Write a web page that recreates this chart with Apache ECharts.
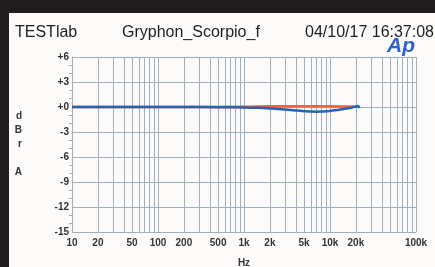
<!DOCTYPE html>
<html>
<head>
<meta charset="utf-8">
<script src="https://cdn.jsdelivr.net/npm/echarts@6/dist/echarts.min.js"></script>
<style>
  html, body { margin: 0; padding: 0; background: #1f1d1d; }
  #chart { width: 435px; height: 267px; }
</style>
</head>
<body>
<div id="chart"></div>
<script>
// frequency response, dBrA vs Hz
var freqs = [10, 20, 50, 100, 200, 500, 1000, 1500, 2000, 3000, 4000, 5000, 6000, 7000, 8000, 10000, 12000, 15000, 18000, 20000, 21000, 22000];
var blueDb = [0, 0, 0, 0, 0, -0.02, -0.05, -0.1, -0.17, -0.3, -0.42, -0.5, -0.55, -0.56, -0.54, -0.47, -0.37, -0.22, -0.06, 0.06, 0.12, -0.12];
var redFreqs = [10, 100, 1000, 2000, 5000, 10000, 15000, 20000];
var redDb = [0, 0, 0.03, 0.08, 0.1, 0.08, 0.05, 0.02];

var xLabels = [10, 20, 50, 100, 200, 500, 1000, 2000, 5000, 10000, 20000, 100000];
var gridMult = [1, 2, 3, 4, 5, 6, 7, 8, 9];
var decades = [10, 100, 1000, 10000];

var vLines = [];
for (var i = 0; i < decades.length; i++) {
  for (var j = 0; j < gridMult.length; j++) {
    vLines.push({ xAxis: decades[i] * gridMult[j] });
  }
}
vLines.push({ xAxis: 100000 });

function pair(xs, ys) {
  var out = [];
  for (var i = 0; i < xs.length; i++) out.push([xs[i], ys[i]]);
  return out;
}

function fmtHz(v) {
  if (v >= 1000) return (v / 1000) + 'k';
  return '' + v;
}

var chart = echarts.init(document.getElementById('chart'));
var lbl = { color: '#333', fontSize: 10, fontWeight: 'bold', fontFamily: 'Liberation Sans Narrow, Liberation Sans' };
var gridColor = '#9fb0bf';

var option = {
  backgroundColor: '#fdfafa',
  animation: false,
  grid: { left: 72, right: 19, top: 57, bottom: 35, outerBoundsMode: 'none', containLabel: false },
  graphic: [
    { type: 'rect', shape: { x: 0, y: 0, width: 435, height: 13 }, style: { fill: '#1f1d1d' } },
    { type: 'rect', shape: { x: 0, y: 0, width: 9, height: 267 }, style: { fill: '#1f1d1d' } },
    { type: 'text', left: 15, top: 25, style: { text: 'TESTlab', fill: '#1e1e1e', font: '16px "Liberation Sans"' } },
    { type: 'text', left: 122, top: 25, style: { text: 'Gryphon_Scorpio_f', fill: '#1e1e1e', font: '16px "Liberation Sans"' } },
    { type: 'text', left: 305, top: 25, style: { text: '04/10/17 16:37:08', fill: '#1e1e1e', font: '16px "Liberation Sans"' } },
    { type: 'text', left: 387, top: 36, style: { text: 'Ap', fill: '#2f5fd0', font: 'italic bold 21px "Liberation Sans"' } }
  ],
  xAxis: {
    type: 'log',
    logBase: 10,
    min: 10,
    max: 100000,
    name: 'Hz',
    nameLocation: 'middle',
    nameGap: 26,
    nameTextStyle: lbl,
    axisLine: { show: true, lineStyle: { color: gridColor, width: 1 } },
    axisTick: { show: false },
    splitLine: { show: false },
    axisLabel: {
      customValues: xLabels,
      formatter: function (v) { return fmtHz(v); },
      margin: 6,
      color: lbl.color, fontSize: 10, fontWeight: 'bold', fontFamily: lbl.fontFamily
    }
  },
  yAxis: {
    type: 'value',
    min: -15,
    max: 6,
    interval: 3,
    name: 'd\nB\nr\n\nA',
    nameLocation: 'middle',
    nameRotate: 0,
    nameGap: 50,
    nameTextStyle: { color: '#333', fontSize: 10, fontWeight: 'bold', lineHeight: 14, fontFamily: 'Liberation Sans' },
    axisLine: { show: true, lineStyle: { color: gridColor } },
    axisTick: { show: false },
    minorTick: { show: true, splitNumber: 3, length: 3, lineStyle: { color: gridColor } },
    splitLine: { show: true, lineStyle: { color: gridColor, width: 1 } },
    axisLabel: {
      formatter: function (v) { return v >= 0 ? '+' + v : '' + v; },
      margin: 3,
      color: lbl.color, fontSize: 10, fontWeight: 'bold', fontFamily: lbl.fontFamily
    }
  },
  series: [
    {
      type: 'line',
      data: pair(redFreqs, redDb),
      smooth: true,
      showSymbol: false,
      lineStyle: { color: '#f0603c', width: 2.5 },
      z: 3,
      markLine: {
        silent: true,
        symbol: 'none',
        label: { show: false },
        lineStyle: { color: gridColor, width: 1, type: 'solid' },
        data: vLines,
        z: 1
      }
    },
    {
      type: 'line',
      data: pair(freqs, blueDb),
      smooth: true,
      showSymbol: false,
      lineStyle: { color: '#2a60b4', width: 2.5 },
      z: 4
    }
  ]
};
chart.setOption(option);
</script>
</body>
</html>
